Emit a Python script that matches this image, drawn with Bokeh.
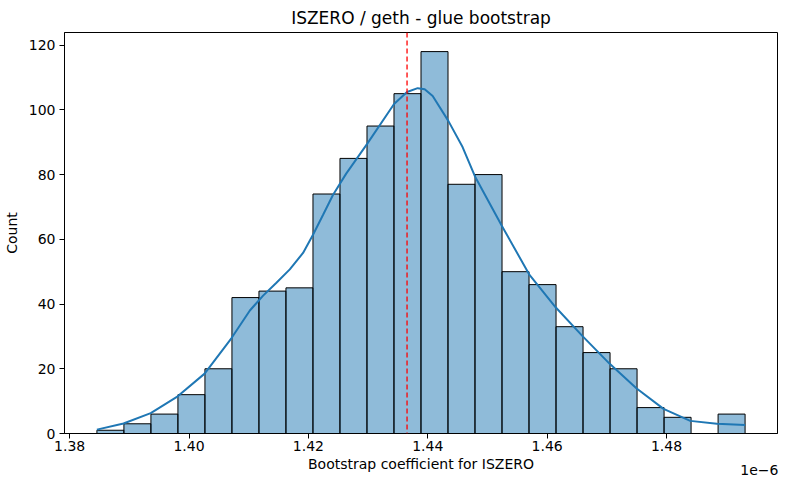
from bokeh.plotting import figure
from bokeh.models import Range1d, FixedTicker, Span, Label
from bokeh.embed import file_html
from bokeh.resources import INLINE

# Values are in units of 1e-6 (axis offset label "1e−6")
bin_start = 1.384561
bin_end = 1.493166
counts = [1, 3, 6, 12, 20, 42, 44, 45, 74, 85, 95, 105, 118, 77, 80, 50, 46, 33, 25, 20, 8, 5, 0, 6]
mean_value = 1.436525

kde_x = [1.38456, 1.38902, 1.39358, 1.39810, 1.40261, 1.40712, 1.41019, 1.41241, 1.41464,
         1.41688, 1.41910, 1.42077, 1.42244, 1.42411, 1.42633, 1.42984, 1.43435, 1.43652,
         1.43831, 1.43948, 1.44082, 1.44344, 1.44583, 1.44789, 1.45240, 1.45698, 1.46142,
         1.46593, 1.47044, 1.47495, 1.47950, 1.48398, 1.48844, 1.49317]
kde_y = [1.2, 3.1, 6.3, 11.5, 18.5, 29.5, 38.0, 42.6, 46.6,
         50.7, 55.8, 61.4, 67.5, 73.7, 80.3, 89.5, 101.8, 105.5,
         106.7, 106.4, 104.3, 96.6, 88.5, 79.5, 64.2, 49.2, 39.0,
         30.1, 21.6, 14.0, 7.6, 3.9, 3.0, 2.6]

x_ticks = [1.38, 1.40, 1.42, 1.44, 1.46, 1.48]
y_ticks = [0, 20, 40, 60, 80, 100, 120]

n = len(counts)
w = (bin_end - bin_start) / n
lefts = [bin_start + i * w for i in range(n)]
rights = [bin_start + (i + 1) * w for i in range(n)]

span = bin_end - bin_start
x_lo = bin_start - 0.05 * span
x_hi = bin_end + 0.05 * span
y_hi = max(counts) * 1.05

p = figure(width=784, height=484, output_backend="svg", toolbar_location=None,
           x_range=Range1d(x_lo, x_hi), y_range=Range1d(0, y_hi),
           min_border_left=63, min_border_right=7, min_border_top=29, min_border_bottom=50)

p.title.text = "ISZERO / geth - glue bootstrap"
p.title.align = "center"
p.title.text_font = "DejaVu Sans"
p.title.text_font_size = "17px"
p.title.text_font_style = "normal"
p.title.text_color = "black"

p.quad(left=lefts, right=rights, top=counts, bottom=0,
       fill_color="#1f77b4", fill_alpha=0.5, line_color="black", line_width=1)
p.line(kde_x, kde_y, line_color="#1f77b4", line_width=2)

p.add_layout(Span(location=mean_value, dimension="height", line_color="red",
                  line_dash="5 3", line_width=1.3))

p.xgrid.visible = False
p.ygrid.visible = False
p.outline_line_color = "black"
p.outline_line_width = 1
p.outline_line_alpha = 1

for ax in (p.xaxis[0], p.yaxis[0]):
    ax.axis_line_color = "black"
    ax.major_tick_line_color = "black"
    ax.major_tick_out = 5
    ax.major_tick_in = 0
    ax.minor_tick_line_color = None
    ax.major_label_text_font = "DejaVu Sans"
    ax.major_label_text_font_size = "14px"
    ax.major_label_text_color = "black"
    ax.axis_label_text_font = "DejaVu Sans"
    ax.axis_label_text_font_size = "14px"
    ax.axis_label_text_font_style = "normal"
    ax.axis_label_text_color = "black"
    ax.major_label_standoff = 4
    ax.axis_label_standoff = 6

p.xaxis.major_label_standoff = 2
p.xaxis.axis_label_standoff = 2
p.xaxis.ticker = FixedTicker(ticks=x_ticks)
p.yaxis.ticker = FixedTicker(ticks=y_ticks)
p.xaxis.major_label_overrides = {t: f"{t:.2f}" for t in x_ticks}
p.xaxis.axis_label = "Bootstrap coefficient for ISZERO"
p.yaxis.axis_label = "Count"

# offset text "1e−6", right-aligned with the frame, in the panel below the x axis
p.add_layout(Label(x=714, y=15, x_units="screen", y_units="screen", text="1e\u22126",
                   text_align="right", text_baseline="middle", text_font="DejaVu Sans",
                   text_font_size="14px", text_color="black"), "below")

open("out.html", "w").write(file_html(p, INLINE))
